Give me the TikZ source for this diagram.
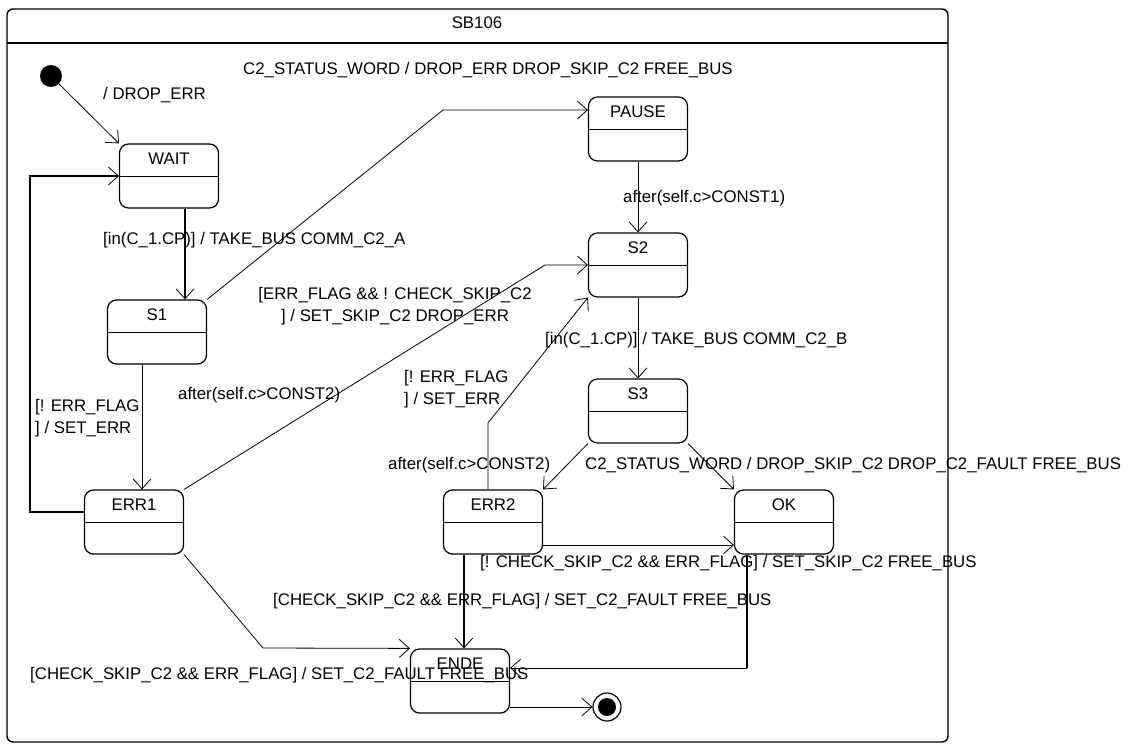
\documentclass[tikz,border=0pt]{standalone}
\usepackage{fontspec}
\setmainfont{Liberation Sans}
\usetikzlibrary{arrows.meta,positioning,calc}

\begin{document}
\begin{tikzpicture}[
  x=1pt, y=-1pt,
  every node/.style={font=\fontsize{16.8}{22}\selectfont},
  state/.style={rectangle, draw, line width=1.2pt, rounded corners=9pt,
    minimum width=99pt, inner xsep=0pt, inner ysep=0pt,
    text height=20pt, text depth=44pt,
    path picture={\draw[line width=1pt] (path picture bounding box.west)
      -- (path picture bounding box.east);}},
  lbl/.style={anchor=west, inner sep=0pt},
  edge/.style={->, line width=0.8pt},
  >={Straight Barb[length=10pt, width=18pt, line width=0.8pt]},
]
  \useasboundingbox (0,0) rectangle (1136,745);

  %% Frame of SB106
  \draw[line width=1.4pt, rounded corners=6pt] (7,9) rectangle (948,742);
  \draw[line width=1.4pt] (7,43) -- (948,43);
  \node (title) at (477,23) {SB106};

  %% States
  \node[circle, fill=black, minimum size=22pt, inner sep=0pt] (init) at (51,76) {};
  \node[state] (wait) at (169,176) {WAIT};
  \node[state] (s1) at (157,332) {S1};
  \node[state] (pause) at (638,129) {PAUSE};
  \node[state] (s2) at (638,265) {S2};
  \node[state] (s3) at (638,411) {S3};
  \node[state] (err1) at (134,522) {ERR1};
  \node[state] (err2) at (493,522) {ERR2};
  \node[state] (ok) at (784,522) {OK};
  \node[state] (ende) at (460,681) {ENDE};
  \node[circle, draw, line width=1.2pt, minimum size=28pt, inner sep=0pt] (final) at (607,707) {};
  \fill (final) circle (9pt);

  %% Transitions, left part
  \draw[edge] (init) -- (wait.north west);
  \draw[edge, line width=2pt] ([xshift=16pt]wait.south) -- ([xshift=16pt]wait.south |- s1.north);
  \coordinate (k1) at (443,110);
  \draw[edge] (s1.north east) -- (k1) -- (k1 -| pause.west);
  \draw[edge] ([xshift=-15pt]s1.south) -- ([xshift=-15pt]s1.south |- err1.north);
  \coordinate (k2) at (30,176);
  \draw[edge, line width=2pt] ([yshift=10pt]err1.west) -| (k2) -- (wait.west);
  \coordinate (k3) at (545,265);
  \draw[edge] (err1.north east) -- (k3) -- (s2.west);
  \coordinate (k4) at (263,648);
  \draw[edge] (err1.south east) -- (k4) -- (ende.north west);

  %% Transitions, right part
  \draw[edge] (pause.south) -- (s2.north);
  \draw[edge] (s2.south) -- (s3.north);
  \draw[edge] (s3.south west) -- (err2.north east);
  \draw[edge] (s3.south east) -- (ok.north west);
  \coordinate (k5) at (488,423);
  \draw[edge] (k5 |- err2.north) -- (k5) -- (s2.south west);
  \draw[edge] ([yshift=-23pt]err2.east) -- ([yshift=-23pt]err2.east -| ok.west);
  \draw[edge, line width=2pt] ([xshift=-29pt]err2.south) -- ([xshift=-29pt]err2.south |- ende.north);
  \coordinate (k6) at (747,668);
  \draw[line width=2pt] (k6 |- ok.south) -- (k6);
  \draw[edge] (k6) -- (k6 -| ende.east);
  \draw[edge] (final -| ende.east) -- (final);

  %% Labels
  \node[lbl] (l1) at (103,95) {/ DROP\_ERR};
  \node[lbl] (l2) at (243,70) {C2\_STATUS\_WORD / DROP\_ERR DROP\_SKIP\_C2 FREE\_BUS};
  \node[lbl] (l3) at (103,240) {[in(C\_1.CP)] / TAKE\_BUS COMM\_C2\_A};
  \node[lbl] (l4) at (623,198) {after(self.c>CONST1)};
  \node[align=center, inner sep=0pt] (l5) at (395,306) {[ERR\_FLAG \&\& ! CHECK\_SKIP\_C2\\] / SET\_SKIP\_C2 DROP\_ERR};
  \node[lbl, align=left] (l6) at (35,418) {[! ERR\_FLAG\\] / SET\_ERR};
  \node[lbl] (l7) at (178,395) {after(self.c>CONST2)};
  \node[lbl, align=left] (l8) at (404,389) {[! ERR\_FLAG\\] / SET\_ERR};
  \node[lbl] (l9) at (545,340) {[in(C\_1.CP)] / TAKE\_BUS COMM\_C2\_B};
  \node[lbl] (l10) at (388,465) {after(self.c>CONST2)};
  \node[lbl] (l11) at (585,465) {C2\_STATUS\_WORD / DROP\_SKIP\_C2 DROP\_C2\_FAULT FREE\_BUS};
  \node[lbl] (l12) at (480,563) {[! CHECK\_SKIP\_C2 \&\& ERR\_FLAG] / SET\_SKIP\_C2 FREE\_BUS};
  \node[lbl] (l13) at (273,601) {[CHECK\_SKIP\_C2 \&\& ERR\_FLAG] / SET\_C2\_FAULT FREE\_BUS};
  \node[lbl] (l14) at (30,675) {[CHECK\_SKIP\_C2 \&\& ERR\_FLAG] / SET\_C2\_FAULT FREE\_BUS};
\end{tikzpicture}
\end{document}
